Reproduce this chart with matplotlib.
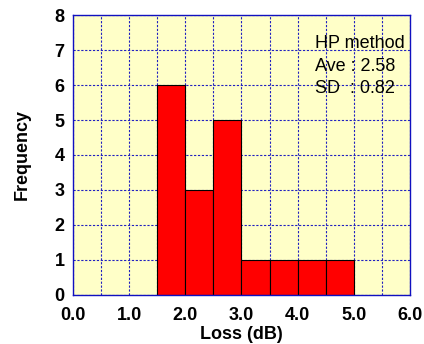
import matplotlib.pyplot as plt
import numpy as np

plt.rcParams['font.family'] = ['Liberation Sans', 'DejaVu Sans']

# histogram data (bin edges in dB, counts)
bin_left = [1.5, 2.0, 2.5, 3.0, 3.5, 4.0, 4.5]
counts = [6, 3, 5, 1, 1, 1, 1]
bin_width = 0.5
x_ticks = [0.0, 1.0, 2.0, 3.0, 4.0, 5.0, 6.0]
y_ticks = [0, 1, 2, 3, 4, 5, 6, 7, 8]
stats_text = "HP method\nAve : 2.58\nSD  : 0.82"

fig = plt.figure(figsize=(4.24, 3.44), dpi=100)
ax = fig.add_axes([0.172, 0.143, 0.795, 0.813])
ax.set_facecolor('#ffffc8')

ax.bar(bin_left, counts, width=bin_width, align='edge',
       color='#ff0000', edgecolor='#000000', linewidth=0.8, zorder=3)

ax.set_xlim(0, 6)
ax.set_ylim(0, 8)
ax.set_xticks(x_ticks)
ax.set_xticklabels([f"{t:.1f}" for t in x_ticks])
ax.set_yticks(y_ticks)
ax.set_xticks(np.arange(0, 6.01, 0.5), minor=True)

ax.grid(True, which='both', axis='x', color='#2020c0', linestyle=(0, (2, 1.5)), linewidth=0.8, zorder=1)
ax.grid(True, which='major', axis='y', color='#2020c0', linestyle=(0, (2, 1.5)), linewidth=0.8, zorder=1)
ax.tick_params(which='both', length=0, labelsize=13)
ax.tick_params(axis='x', pad=9)
ax.tick_params(axis='y', pad=6)
for lbl in ax.get_xticklabels() + ax.get_yticklabels():
    lbl.set_fontweight('bold')

for s in ax.spines.values():
    s.set_color('#1010c0')
    s.set_linewidth(1.0)
    s.set_zorder(4)

ax.set_xlabel("Loss (dB)", fontsize=13, fontweight='bold', labelpad=1)
ax.set_ylabel("Frequency", fontsize=13, fontweight='bold', labelpad=17)

ax.text(4.31, 7.42, stats_text, fontsize=13, va='top', ha='left',
        linespacing=1.42, zorder=5)

fig.savefig("out.png", dpi=100)
